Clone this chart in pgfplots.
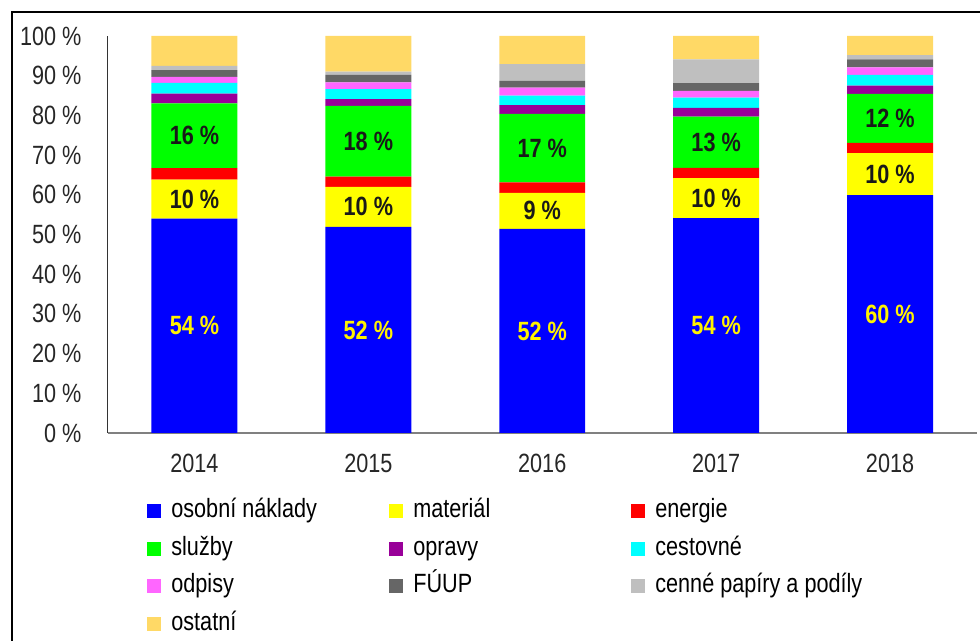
\documentclass[border=0pt]{standalone}
\usepackage{pgfplots}
\pgfplotsset{compat=1.18}
\usepackage{fontspec}
\setmainfont{Liberation Sans}[FakeStretch=0.82]
\definecolor{cOsobni}{HTML}{0000FF}
\definecolor{cMaterial}{HTML}{FFFF00}
\definecolor{cEnergie}{HTML}{FF0000}
\definecolor{cSluzby}{HTML}{00FF00}
\definecolor{cOpravy}{HTML}{990099}
\definecolor{cCestovne}{HTML}{00FFFF}
\definecolor{cOdpisy}{HTML}{FF66FF}
\definecolor{cFUUP}{HTML}{666666}
\definecolor{cCenne}{HTML}{BFBFBF}
\definecolor{cOstatni}{HTML}{FFD966}
\newcommand{\lf}{\fontsize{13.2bp}{14bp}\selectfont}
\newcommand{\lgent}[1]{\makebox[114bp][l]{\hspace{5bp}#1}}
\begin{document}
\begin{tikzpicture}
\path[use as bounding box] (0,0) rectangle (490bp,320.5bp);
\draw[line width=1.2bp] (6bp,0) -- (6bp,314.5bp) -- (490bp,314.5bp);
\begin{axis}[
  at={(53.75bp,104bp)}, anchor=south west,
  scale only axis, width=434.75bp, height=198.5bp,
  ybar stacked, bar width=0.494,
  xmin=-0.5, xmax=4.5, ymin=0, ymax=100,
  xtick={0,1,2,3,4}, xticklabels={2014,2015,2016,2017,2018},
  ytick={0,10,...,100},
  yticklabel={\pgfmathprintnumber{\tick}~\%},
  /pgf/number format/assume math mode=true,
  major tick length=0pt,
  axis x line*=bottom, axis y line*=left,
  x axis line style={draw=black!50, line width=0.8bp},
  y axis line style={draw=black!80, line width=0.6bp},
  tick label style={font=\lf, text=black!85},
  xticklabel style={yshift=-7bp},
  yticklabel style={xshift=-9.5bp},
  legend columns=3,
  legend cell align=left,
  legend image code/.code={\fill[#1] (0bp,-3.5bp) rectangle (7bp,3.5bp);},
  legend style={draw=none, fill=none, font=\lf, at={(axis description cs:0.0385,-0.1575)}, anchor=north west,
    nodes={inner sep=0pt, text height=9bp, text depth=2.5bp}, column sep=0pt, row sep=7.25bp},
]
\addplot[fill=cOsobni, draw=none] coordinates {(0,54.0) (1,51.9) (2,51.4) (3,54.1) (4,59.9)};
\addlegendentry{\lgent{osobní náklady}}
\addplot[fill=cMaterial, draw=none] coordinates {(0,9.8) (1,10.1) (2,9.1) (3,10.1) (4,10.6)};
\addlegendentry{\lgent{materiál}}
\addplot[fill=cEnergie, draw=none] coordinates {(0,2.9) (1,2.6) (2,2.6) (3,2.6) (4,2.6)};
\addlegendentry{\lgent{energie}}
\addplot[fill=cSluzby, draw=none] coordinates {(0,16.3) (1,17.8) (2,17.3) (3,12.9) (4,12.3)};
\addlegendentry{\lgent{služby}}
\addplot[fill=cOpravy, draw=none] coordinates {(0,2.5) (1,1.7) (2,2.2) (3,2.2) (4,2.1)};
\addlegendentry{\lgent{opravy}}
\addplot[fill=cCestovne, draw=none] coordinates {(0,2.7) (1,2.5) (2,2.4) (3,2.6) (4,2.7)};
\addlegendentry{\lgent{cestovné}}
\addplot[fill=cOdpisy, draw=none] coordinates {(0,1.5) (1,1.7) (2,2.0) (3,1.7) (4,1.9)};
\addlegendentry{\lgent{odpisy}}
\addplot[fill=cFUUP, draw=none] coordinates {(0,1.7) (1,1.9) (2,1.7) (3,1.9) (4,2.0)};
\addlegendentry{\lgent{FÚUP}}
\addplot[fill=cCenne, draw=none] coordinates {(0,1.1) (1,0.8) (2,4.2) (3,6.0) (4,1.1)};
\addlegendentry{\lgent{cenné papíry a podíly}}
\addplot[fill=cOstatni, draw=none] coordinates {(0,7.5) (1,9.0) (2,7.1) (3,5.9) (4,4.8)};
\addlegendentry{\lgent{ostatní}}
\end{axis}
\begin{axis}[
  at={(53.75bp,104bp)}, anchor=south west,
  scale only axis, width=434.75bp, height=198.5bp,
  xmin=-0.5, xmax=4.5, ymin=0, ymax=100,
  hide axis,
  nodes near coords, point meta=explicit symbolic,
]
\addplot[only marks, mark=*, mark size=0pt, mark options={draw=none, fill=none},
  every node near coord/.style={anchor=center, font=\lf\bfseries, text=yellow}]
  coordinates {(0,27.0) [54 \%] (1,25.95) [52 \%] (2,25.7) [52 \%] (3,27.05) [54 \%] (4,29.95) [60 \%]};
\addplot[only marks, mark=*, mark size=0pt, mark options={draw=none, fill=none},
  every node near coord/.style={anchor=center, font=\lf\bfseries, text=black!90}]
  coordinates {(0,58.9) [10 \%] (1,56.95) [10 \%] (2,55.95) [9 \%] (3,59.15) [10 \%] (4,65.2) [10 \%]
               (0,74.85) [16 \%] (1,73.5) [18 \%] (2,71.75) [17 \%] (3,73.25) [13 \%] (4,79.25) [12 \%]};
\end{axis}
\end{tikzpicture}
\end{document}
